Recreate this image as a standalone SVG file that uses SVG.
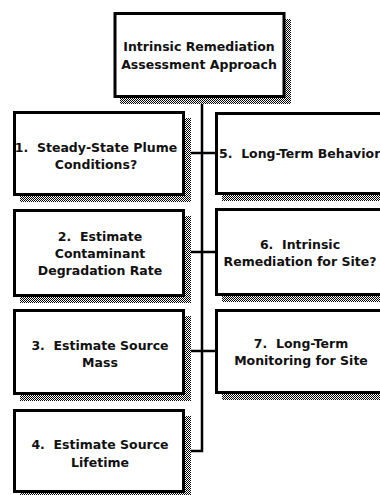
<svg xmlns="http://www.w3.org/2000/svg" width="380" height="495" viewBox="0 0 380 495">
<defs>
<pattern id="dith" width="2" height="2" patternUnits="userSpaceOnUse">
<rect width="2" height="2" fill="#ffffff"/>
<rect width="1" height="1" fill="#000000"/>
<rect x="1" y="1" width="1" height="1" fill="#000000"/>
</pattern>
<style>
.box{fill:#ffffff;stroke:#000000;stroke-width:3}
.shadow{fill:url(#dith);stroke:none}
.lbl{font-family:"DejaVu Sans",sans-serif;font-weight:bold;font-size:12.5px;fill:#111111;text-anchor:middle;white-space:pre}
.conn{fill:none;stroke:#000000;stroke-width:2.5}
</style>
</defs>
<rect width="380" height="495" fill="#ffffff"/>
<g id="connectors">
<path class="conn" d="M202,104 V451 H189"/>
<path class="conn" d="M189,153 H216"/>
<path class="conn" d="M189,252 H216"/>
<path class="conn" d="M189,351 H216"/>
</g>
<g id="top">
<rect class="shadow" x="120" y="19" width="171" height="85"/>
<rect class="box" x="115" y="13.5" width="169" height="83"/>
<text class="lbl" x="199" y="51">Intrinsic Remediation</text>
<text class="lbl" x="199" y="69">Assessment Approach</text>
</g>
<g id="n1">
<rect class="shadow" x="20" y="118" width="171" height="84"/>
<rect class="box" x="14.5" y="112.5" width="169" height="82"/>
<text class="lbl" x="96" y="152">1.  Steady-State Plume</text>
<text class="lbl" x="96" y="169">Conditions?</text>
</g>
<g id="n2">
<rect class="shadow" x="20" y="216" width="171" height="87"/>
<rect class="box" x="14.5" y="210.5" width="169" height="85"/>
<text class="lbl" x="100" y="241">2.  Estimate</text>
<text class="lbl" x="100" y="258">Contaminant</text>
<text class="lbl" x="100" y="275">Degradation Rate</text>
</g>
<g id="n3">
<rect class="shadow" x="20" y="316" width="171" height="85"/>
<rect class="box" x="14.5" y="310.5" width="169" height="83"/>
<text class="lbl" x="100" y="350">3.  Estimate Source</text>
<text class="lbl" x="100" y="367">Mass</text>
</g>
<g id="n4">
<rect class="shadow" x="20" y="416" width="171" height="83"/>
<rect class="box" x="14.5" y="410.5" width="169" height="81"/>
<text class="lbl" x="100" y="449">4.  Estimate Source</text>
<text class="lbl" x="100" y="467">Lifetime</text>
</g>
<g id="n5">
<rect class="shadow" x="222" y="119" width="171" height="82"/>
<rect class="box" x="216.5" y="113.5" width="169" height="80"/>
<text class="lbl" x="219" y="158" style="text-anchor:start">5.  Long-Term Behavior</text>
</g>
<g id="n6">
<rect class="shadow" x="222" y="215" width="171" height="87"/>
<rect class="box" x="216.5" y="209.5" width="169" height="85"/>
<text class="lbl" x="300" y="249">6.  Intrinsic</text>
<text class="lbl" x="300" y="266">Remediation for Site?</text>
</g>
<g id="n7">
<rect class="shadow" x="222" y="316" width="171" height="84"/>
<rect class="box" x="216.5" y="310.5" width="169" height="82"/>
<text class="lbl" x="301" y="348">7.  Long-Term</text>
<text class="lbl" x="301" y="365">Monitoring for Site</text>
</g>
</svg>
